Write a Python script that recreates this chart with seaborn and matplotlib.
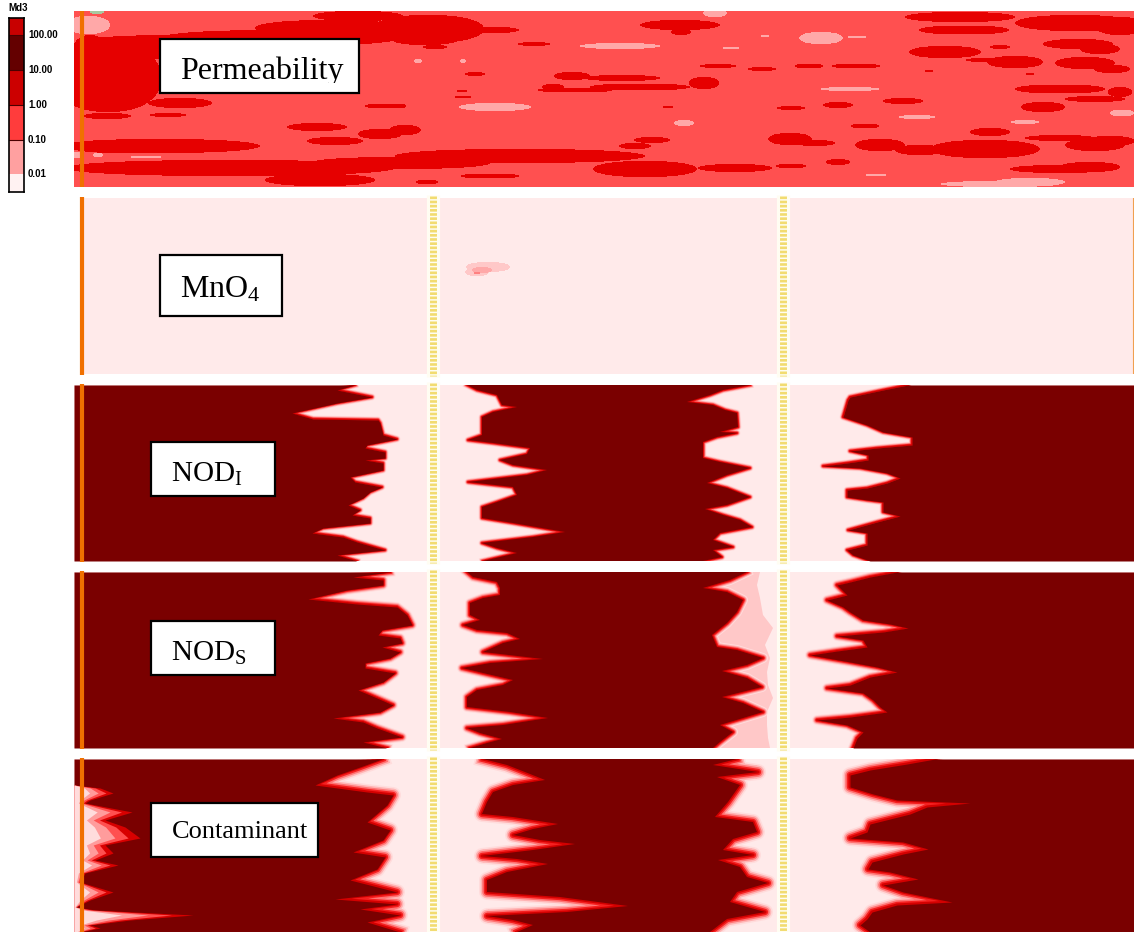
import numpy as np
import matplotlib
matplotlib.use('Agg')
import matplotlib.pyplot as plt
from matplotlib.colors import ListedColormap
from matplotlib.patches import Rectangle
import seaborn as sns

W, H = 1134, 932
plt.rcParams['font.family'] = ['Liberation Serif', 'DejaVu Serif']
plt.rcParams['mathtext.fontset'] = 'custom'
plt.rcParams['mathtext.rm'] = 'Liberation Serif'

# ---- colour classes of the field ----
field_colors = ['#ffffff', '#ffeaea', '#ffc8c8', '#ffa8a8', '#ff8080', '#ff5050', '#e60000', '#c00000', '#a8c8a0']
field_cmap = ListedColormap(field_colors)
DARK = '#7a0000'

# ---- legend ----
legend_heights = [17, 35, 35, 35, 34, 18]
legend_colors = ['#c80000', '#640000', '#cc0000', '#ff3c3c', '#ffa0a0', '#fff2f2']
legend_labels = ['100.00', '10.00', '1.00', '0.10', '0.01']

# ---- permeability field: lenses of high values, x, y, half length, half height ----
high_x = [428, 483, 425, 435, 534, 680, 681, 960, 964, 1075, 1120, 1078, 1100, 945, 1015, 985, 1085, 1112, 1000,
          718, 762, 809, 856, 572, 622, 475, 640, 704, 575, 553, 462, 463, 1060, 1095, 1120, 1043, 838, 903, 791,
          668, 402, 865, 405, 652, 635, 520, 790, 815, 985, 880, 920, 990, 1060, 1095, 1110, 645, 735, 791, 838,
          490, 427, 1060, 1090, 929, 1030,
          358, 330, 108, 130, 180, 280, 107, 180, 168, 160, 120, 230, 320, 317, 335, 380, 385,
          400, 120, 90, 360]
high_y = [29, 30, 39, 47, 44, 25, 32, 17, 30, 23, 26, 44, 49, 52, 62, 60, 63, 69, 47,
          66, 69, 66, 66, 76, 78, 74, 87, 83, 90, 87, 91, 97, 89, 99, 92, 107, 105, 101, 108,
          107, 106, 126, 130, 140, 146, 156, 139, 143, 149, 145, 150, 132, 138, 145, 141, 169, 168, 166, 162,
          176, 182, 169, 167, 71, 74,
          16, 28, 78, 52, 42, 38, 116, 103, 115, 146, 147, 168, 180, 127, 141, 134, 106,
          163, 45, 60, 33]
high_a = [56, 36, 34, 12, 16, 40, 10, 55, 45, 60, 25, 35, 20, 36, 28, 20, 30, 18, 10,
          19, 14, 14, 24, 18, 38, 10, 50, 15, 38, 11, 5, 8, 45, 30, 12, 22, 15, 20, 14,
          6, 4, 14, 16, 18, 16, 125, 22, 20, 55, 25, 25, 20, 35, 30, 25, 52, 37, 15, 12,
          30, 11, 50, 30, 4, 5,
          45, 75, 54, 50, 100, 120, 24, 32, 18, 100, 50, 165, 55, 30, 28, 22, 20,
          90, 45, 20, 60]
high_b = [14, 3.5, 6, 2, 2, 5, 3, 5, 4.5, 8, 9, 5, 5, 6, 6, 2, 6, 4, 2,
          2, 2, 2.5, 2.5, 4, 3, 2, 3.5, 6, 2.5, 3, 1.5, 1.5, 4.5, 3, 5, 5, 3, 3, 2,
          1, 2, 2.5, 5, 3, 3, 7, 6, 3, 9, 6, 5, 4, 3, 6, 5, 8, 4, 2.5, 3,
          2.5, 2.5, 4, 5, 1, 1,
          5, 8, 34, 8, 7, 8, 3, 5, 2, 7, 6, 8, 6, 4, 4, 5, 2.5,
          6, 8, 25, 6]
low_x = [821, 857, 620, 495, 850, 917, 684, 1025, 1122, 731, 715, 1000, 1030, 876, 765, 418, 463, 88, 98, 146, 77]
low_y = [38, 37, 46, 107, 89, 117, 123, 122, 113, 48, 13, 184, 182, 175, 36, 61, 61, 25, 155, 157, 155]
low_a = [22, 10, 40, 36, 30, 18, 10, 14, 12, 8, 12, 60, 35, 10, 5, 4, 3, 22, 5, 17, 5]
low_b = [6, 1, 3, 4, 2, 2, 3, 2, 3.5, 1.5, 4, 3, 4, 1.5, 1, 2, 2, 9, 2, 1, 3]

# ---- MnO4 plume ----
plume_x = [488, 477, 482, 477]
plume_y = [267, 272, 270, 273]
plume_a = [22, 12, 10, 3]
plume_b = [5, 4, 3, 1.5]
plume_class = [2, 2, 3, 4]

# ---- NOD_I fronts ----
nodi_a_y = [385, 390, 397, 403, 413, 419, 420, 423, 435, 439, 445, 448, 452, 458, 460, 463, 470, 477, 482, 487, 492, 498, 505, 510, 515, 518, 523, 528, 533, 537, 542, 550, 555, 561]
nodi_a_x = [355, 337, 372, 337, 292, 313, 378, 380, 383, 397, 367, 365, 385, 385, 365, 383, 383, 350, 355, 382, 370, 363, 348, 360, 352, 370, 370, 323, 312, 343, 357, 385, 337, 357]
nodi_b_y = [385, 390, 395, 405, 407, 412, 417, 435, 440, 443, 448, 454, 460, 465, 470, 475, 482, 487, 495, 502, 507, 518, 523, 532, 537, 543, 548, 553, 561]
nodi_b_x = [467, 477, 497, 502, 517, 493, 482, 482, 468, 493, 530, 527, 500, 513, 547, 527, 468, 513, 517, 497, 482, 482, 513, 565, 533, 482, 497, 517, 483]
nodi_c_y = [385, 390, 395, 402, 405, 410, 413, 427, 432, 433, 437, 442, 458, 462, 468, 475, 483, 488, 497, 505, 509, 515, 520, 527, 533, 540, 547, 550, 557, 561]
nodi_c_x = [750, 723, 710, 687, 713, 725, 737, 738, 720, 737, 717, 703, 703, 720, 750, 727, 707, 727, 750, 727, 705, 723, 740, 752, 720, 713, 733, 713, 722, 703]
nodi_d_y = [385, 390, 397, 400, 417, 420, 425, 432, 437, 445, 448, 451, 455, 460, 463, 466, 468, 473, 478, 483, 488, 490, 497, 500, 502, 512, 516, 522, 530, 533, 545, 550, 555, 561]
nodi_d_x = [908, 883, 850, 848, 843, 852, 867, 883, 912, 912, 877, 850, 868, 868, 847, 823, 860, 887, 900, 887, 867, 847, 847, 867, 883, 883, 900, 877, 848, 867, 867, 847, 853, 870]

# ---- NOD_S fronts ----
nods_a_y = [572, 577, 580, 585, 590, 599, 604, 607, 615, 625, 630, 635, 638, 643, 647, 652, 658, 663, 668, 673, 682, 690, 695, 705, 712, 718, 722, 728, 737, 742, 748]
nods_a_x = [390, 353, 383, 383, 347, 308, 357, 397, 407, 412, 382, 378, 400, 402, 382, 400, 390, 365, 365, 395, 383, 358, 370, 393, 380, 333, 363, 377, 402, 363, 387]
nods_b_y = [572, 577, 582, 588, 595, 598, 603, 615, 620, 625, 630, 633, 639, 643, 652, 659, 663, 668, 673, 680, 685, 690, 697, 707, 712, 718, 725, 728, 733, 739, 743, 748]
nods_b_x = [467, 473, 497, 500, 500, 483, 470, 470, 480, 463, 477, 507, 520, 503, 483, 543, 490, 462, 483, 513, 503, 477, 467, 467, 510, 548, 503, 467, 480, 502, 487, 470]
nods_c_y = [572, 580, 588, 592, 600, 612, 623, 635, 647, 650, 658, 665, 671, 678, 687, 697, 703, 712, 725, 732, 742, 748]
nods_c_x = [747, 730, 703, 727, 743, 737, 727, 712, 717, 737, 763, 747, 722, 747, 762, 722, 743, 763, 720, 733, 720, 713]
nods_pink_y = [572, 585, 598, 615, 628, 645, 658, 672, 685, 698, 712, 725, 738, 748]
nods_pink_x = [760, 757, 760, 763, 773, 765, 770, 767, 768, 773, 767, 767, 768, 770]
nods_d_y = [572, 577, 582, 585, 595, 600, 607, 612, 620, 624, 628, 632, 636, 640, 647, 651, 655, 662, 667, 672, 677, 685, 688, 693, 700, 707, 712, 717, 720, 725, 732, 738, 748]
nods_d_x = [897, 870, 850, 837, 847, 827, 843, 850, 863, 890, 908, 883, 837, 863, 867, 837, 810, 850, 877, 897, 870, 850, 827, 863, 873, 880, 887, 850, 817, 847, 863, 857, 853]

# ---- Contaminant fronts ----
cont_plume_y = [759, 785, 788, 793, 800, 803, 812, 820, 827, 838, 845, 853, 860, 865, 873, 882, 892, 900, 907, 910, 915, 920, 925, 928, 932]
cont_plume_x = [74, 74, 100, 113, 90, 85, 132, 105, 125, 140, 105, 113, 95, 118, 85, 80, 113, 90, 76, 95, 193, 130, 90, 100, 80]
cont_a_y = [759, 767, 775, 785, 792, 795, 805, 822, 830, 840, 852, 857, 869, 880, 892, 899, 904, 909, 915, 922, 932]
cont_a_x = [382, 360, 337, 315, 367, 393, 387, 367, 390, 383, 353, 385, 377, 350, 397, 335, 397, 360, 400, 367, 400]
cont_b_y = [759, 765, 774, 780, 785, 792, 802, 814, 817, 824, 829, 835, 840, 844, 850, 856, 859, 864, 872, 880, 892, 897, 906, 912, 916, 920, 925, 932]
cont_b_x = [483, 507, 530, 545, 513, 493, 487, 482, 513, 558, 533, 513, 540, 575, 533, 482, 517, 548, 507, 487, 487, 560, 628, 567, 487, 513, 533, 517]
cont_c_y = [759, 765, 772, 777, 785, 802, 817, 822, 832, 839, 850, 855, 860, 867, 877, 883, 892, 902, 912, 919, 932]
cont_c_x = [737, 713, 758, 717, 740, 728, 715, 753, 757, 733, 723, 753, 718, 740, 747, 768, 737, 730, 765, 727, 710]
cont_d_y = [759, 764, 770, 775, 787, 794, 800, 803, 807, 814, 824, 832, 838, 842, 849, 854, 862, 869, 872, 879, 885, 892, 899, 902, 905, 912, 919, 925, 932]
cont_d_x = [935, 907, 870, 850, 850, 873, 897, 970, 927, 910, 870, 867, 850, 903, 928, 903, 872, 868, 890, 918, 883, 903, 937, 952, 897, 872, 867, 860, 870]

# ---- panels: left, top, right, bottom in pixels ----
panel_left = [74, 74, 74, 74, 74]
panel_top = [11, 198, 385, 572, 759]
panel_bottom = [187, 374, 561, 748, 932]
well_x = [82, 433, 783]


def new_axes(fig, x0, y0, x1, y1):
    return fig.add_axes([x0 / W, 1 - y1 / H, (x1 - x0) / W, (y1 - y0) / H])


def paint(mat, x0, y0, xs, ys, aa, bb, cls):
    rows, cols = np.ogrid[:mat.shape[0], :mat.shape[1]]
    for i in range(len(xs)):
        # half a pixel off the cell centres, so no single-pixel tips show
        dx = np.abs(cols + x0 + 0.5 - xs[i]) / aa[i]
        dy = np.abs(rows + y0 + 0.5 - ys[i]) / bb[i]
        mat[dx ** 2.4 + dy ** 2 <= 1] = cls[i] if isinstance(cls, list) else cls


def draw_field(ax, mat):
    sns.heatmap(mat, cmap=field_cmap, vmin=-0.5, vmax=len(field_colors) - 0.5, cbar=False,
                xticklabels=False, yticklabels=False, ax=ax)
    ax.set(xlabel='', ylabel='')


def draw_front(ax, xs, ys, x0, y0, glow):
    # glow sits under the dark fill, so only the pale side stays visible
    xs = np.array(xs) - x0
    ys = np.array(ys) - y0
    for width, col in zip([2.0, 1.6, 1.2, 0.8, 0.4], ['#ffdcdc', '#ffb4b4', '#ff7474', '#f52020', '#d40000']):
        sns.lineplot(x=xs, y=ys, orient='y', sort=False, estimator=None, color=col,
                     lw=glow * width * 0.72, solid_joinstyle='round', zorder=2, ax=ax, legend=False)


def draw_dark(ax, x0, y0, h, a, b, c, d, glow):
    a_x, a_y = a
    b_x, b_y = b
    c_x, c_y = c
    d_x, d_y = d
    for front in (a, b, c, d):
        draw_front(ax, front[0], front[1], x0, y0, glow)
    ax.fill_betweenx(np.array(a_y) - y0, 0, np.array(a_x) - x0, color=DARK, lw=0, zorder=3)
    ax.fill(np.r_[b_x, c_x[::-1]] - x0, np.r_[b_y, c_y[::-1]] - y0, color=DARK, lw=0, zorder=3)
    ax.fill_betweenx(np.array(d_y) - y0, np.array(d_x) - x0, W - x0, color=DARK, lw=0, zorder=3)
    ax.set_xlim(0, W - x0)
    ax.set_ylim(h, 0)
    ax.set(xlabel='', ylabel='')


def draw_wells(ax, x0, h):
    ax.plot([well_x[0] - x0] * 2, [-1, h + 1], color='#f07000', lw=3, clip_on=False, zorder=4, solid_capstyle='butt')
    for wx in well_x[1:]:
        ax.plot([wx - x0] * 2, [-3, h + 3], color='#fffdf2', lw=9.5, clip_on=False, zorder=4, solid_capstyle='butt')
        ax.plot([wx - x0] * 2, [-2, h + 2], color='#f2dc70', lw=5, clip_on=False, zorder=5,
                linestyle=(0, (0.38, 0.22)), dash_capstyle='butt')


def label_box(ax, x0, y0, box, text, tx, ty, size, clip_bottom=None):
    bx0, by0, bx1, by1 = box
    rect = Rectangle((bx0 - x0, by0 - y0), bx1 - bx0, by1 - by0, fc='white', ec='black', lw=1.6, zorder=6, clip_on=False)
    ax.add_patch(rect)
    t = ax.text(tx - x0, ty - y0, text, fontsize=size, color='black', va='baseline', ha='left', zorder=7, clip_on=True)
    bottom = by1 if clip_bottom is None else clip_bottom
    t.set_clip_path(Rectangle((bx0 - x0, by0 - y0), bx1 - bx0, bottom - by0, transform=ax.transData))


fig = plt.figure(figsize=(W / 100, H / 100), dpi=100)

# ==== permeability ====
x0, y0, h = panel_left[0], panel_top[0], panel_bottom[0] - panel_top[0]
ax = new_axes(fig, x0, y0, W, panel_bottom[0])
field = np.full((h, W - x0), 5)
paint(field, x0, y0, high_x, high_y, high_a, high_b, 6)
paint(field, x0, y0, low_x, low_y, low_a, low_b, 3)
paint(field, x0, y0, [97], [12], [7], [2], 8)
draw_field(ax, field)
ax.plot([well_x[0] - x0] * 2, [0, h], color='#f07000', lw=3, zorder=4)
label_box(ax, x0, y0, (160, 39, 359, 93), 'Permeability', 180, 79, 23, clip_bottom=83)

# ==== MnO4 ====
x0, y0, h = panel_left[1], panel_top[1], panel_bottom[1] - panel_top[1]
ax = new_axes(fig, x0, y0, W, panel_bottom[1])
field = np.full((h, W - x0), 1)
field[:, :10] = 0
paint(field, x0, y0, plume_x, plume_y, plume_a, plume_b, plume_class)
draw_field(ax, field)
draw_wells(ax, x0, h)
ax.plot([W - 1 - x0] * 2, [0, h], color='#f0a050', lw=0.8, zorder=4)
label_box(ax, x0, y0, (160, 255, 282, 316), r'$\mathrm{MnO_4}$', 180, 297, 23)

# ==== NOD_I ====
x0, y0, h = panel_left[2], panel_top[2], panel_bottom[2] - panel_top[2]
ax = new_axes(fig, x0, y0, W, panel_bottom[2])
draw_field(ax, np.full((h, W - x0), 1))
draw_dark(ax, x0, y0, h, (nodi_a_x, nodi_a_y), (nodi_b_x, nodi_b_y), (nodi_c_x, nodi_c_y), (nodi_d_x, nodi_d_y), 3.5)
draw_wells(ax, x0, h)
label_box(ax, x0, y0, (151, 442, 275, 496), r'$\mathrm{NOD_I}$', 171, 482, 21)

# ==== NOD_S ====
x0, y0, h = panel_left[3], panel_top[3], panel_bottom[3] - panel_top[3]
ax = new_axes(fig, x0, y0, W, panel_bottom[3])
draw_field(ax, np.full((h, W - x0), 1))
ax.fill(np.r_[nods_c_x, nods_pink_x[::-1]] - x0,
        np.r_[nods_c_y, nods_pink_y[::-1]] - y0, color='#ffc8c8', lw=0, zorder=1.5)
draw_dark(ax, x0, y0, h, (nods_a_x, nods_a_y), (nods_b_x, nods_b_y), (nods_c_x, nods_c_y), (nods_d_x, nods_d_y), 5)
draw_wells(ax, x0, h)
label_box(ax, x0, y0, (151, 621, 275, 675), r'$\mathrm{NOD_S}$', 171, 661, 21)

# ==== contaminant ====
x0, y0, h = panel_left[4], panel_top[4], panel_bottom[4] - panel_top[4]
ax = new_axes(fig, x0, y0, W, panel_bottom[4])
draw_field(ax, np.full((h, W - x0), 1))
draw_dark(ax, x0, y0, h, (cont_a_x, cont_a_y), (cont_b_x, cont_b_y), (cont_c_x, cont_c_y), (cont_d_x, cont_d_y), 8)
plume_depth = np.array(cont_plume_x) - x0
plume_rows = np.array(cont_plume_y) - y0
for frac, col in zip([1.0, 0.82, 0.62, 0.4], ['#d80000', '#ff5050', '#ff9c9c', '#ffdcdc']):
    ax.fill_betweenx(plume_rows, 0, plume_depth * frac, color=col, lw=0, zorder=3.5)
draw_wells(ax, x0, h)
label_box(ax, x0, y0, (151, 803, 318, 857), 'Contaminant', 172, 838, 19)

# ==== legend bar ====
ax = new_axes(fig, 9, 18, 24, 192)
legend_mat = np.repeat(np.arange(len(legend_heights)), legend_heights).reshape(-1, 1)
sns.heatmap(legend_mat, cmap=ListedColormap(legend_colors), vmin=-0.5, vmax=len(legend_heights) - 0.5, cbar=False,
            xticklabels=False, yticklabels=False, ax=ax)
for edge in np.cumsum(legend_heights)[:4]:
    ax.axhline(edge, color='#4a0000', lw=0.8)
for spine in ax.spines.values():
    spine.set_visible(True)
    spine.set_color('black')
    spine.set_linewidth(1.2)
for edge, lab in zip(np.cumsum(legend_heights)[:5], legend_labels):
    ax.text(19 / 15 * legend_mat.shape[1], edge, lab, transform=ax.transData, fontsize=7, fontweight='bold',
            family=['Liberation Sans', 'DejaVu Sans'], va='center', ha='left', clip_on=False)
fig.text(8 / W, 1 - 8 / H, 'Md3', fontsize=7, fontweight='bold', family=['Liberation Sans', 'DejaVu Sans'], va='center', ha='left')

fig.savefig('out.png', dpi=100)
